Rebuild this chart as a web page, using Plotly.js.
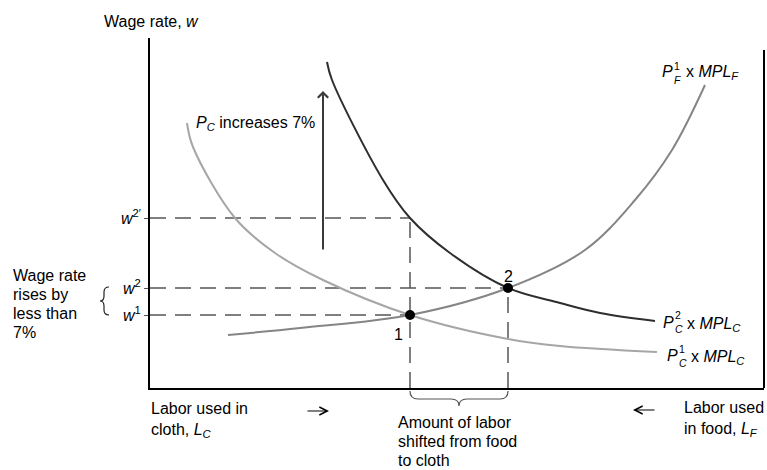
<!DOCTYPE html>
<html>
<head>
<meta charset="utf-8">
<script src="https://cdn.plot.ly/plotly-3.0.1.min.js"></script>
<style>html,body{margin:0;padding:0;background:#fff;}#chart{width:767px;height:470px;}</style>
</head>
<body>
<div id="chart"></div>
<script>
// ---- data (labor used in cloth measured from the left, wage upward) ----
var clothMPL1_L = [37, 43, 85, 125, 173, 260, 358, 410, 507];
var clothMPL1_W = [265, 241, 170, 135, 108, 73, 49, 42, 36];
var clothMPL2_L = [177, 182, 233, 260, 300, 358, 410, 450, 505];
var clothMPL2_W = [326, 308, 208, 170, 135, 100, 85, 75, 67];
var foodMPL_L = [78, 150, 260, 358, 435, 485, 522, 555];
var foodMPL_W = [53, 60, 73, 100, 138, 188, 238, 303];
var eqLabor = [260, 358];          // labor in cloth at equilibria 1 and 2
var eqWage = [73, 100];            // w1, w2
var eqLabels = ['1', '2'];
var wagePrime = 170;               // w2'
var wageTickVals = [73, 100, 170];
var wageTickText = ['<i>w</i><sup>1</sup>', '<i>w</i><sup>2</sup>', '<i>w</i><sup>2\u2032</sup>'];
var arrowLabor = 173, arrowFrom = 137, arrowTo = 297;

// ---- geometry helpers (plot area 150..764 px, 38..388 px) ----
var L0 = 150, B0 = 388, PW = 614, PH = 350;
function px(x) { return (x - L0) / PW; }
function py(y) { return (B0 - y) / PH; }
var FONT = 'Liberation Sans, Arial, Helvetica, sans-serif';
var FS = 16;

// dashed guide lines built from the values above
var gx = [], gy = [];
function seg(x0, y0, x1, y1) { gx.push(x0, x1, null); gy.push(y0, y1, null); }
seg(0, wagePrime, eqLabor[0], wagePrime);
seg(0, eqWage[1], eqLabor[1], eqWage[1]);
seg(0, eqWage[0], eqLabor[0], eqWage[0]);
seg(eqLabor[0], 0, eqLabor[0], wagePrime);
seg(eqLabor[1], 0, eqLabor[1], eqWage[1]);

var traces = [
  {x: gx, y: gy, mode: 'lines', line: {color: '#555', width: 1.5, dash: '16px,9px'}, hoverinfo: 'skip'},
  {x: clothMPL1_L, y: clothMPL1_W, mode: 'lines', line: {color: '#a6a6a6', width: 2, shape: 'spline', smoothing: 1}},
  {x: foodMPL_L, y: foodMPL_W, mode: 'lines', line: {color: '#858585', width: 2, shape: 'spline', smoothing: 1}},
  {x: clothMPL2_L, y: clothMPL2_W, mode: 'lines', line: {color: '#2e2e2e', width: 2, shape: 'spline', smoothing: 1}},
  {x: eqLabor, y: eqWage, mode: 'markers', marker: {color: '#000', size: 10}, cliponaxis: false}
];

function ann(text, x, y, xa, extra) {
  var a = {text: text, xref: 'paper', yref: 'paper', x: px(x), y: py(y), xanchor: xa || 'left', yanchor: 'middle',
    showarrow: false, font: {family: FONT, size: FS, color: '#000'}, align: 'left', borderpad: 0};
  for (var k in extra) a[k] = extra[k];
  return a;
}
var stackFont = {family: FONT, size: 10.5, color: '#000'};
function hArrow(tipX, tipY, dx) {
  return {text: '', xref: 'paper', yref: 'paper', x: px(tipX), y: py(tipY), ax: dx, ay: 0,
    showarrow: true, arrowhead: 5, arrowsize: 1.3, arrowwidth: 1.2, arrowcolor: '#000', standoff: 0};
}

var annotations = [
  ann('Wage rate, <i>w</i>', 151, 22, 'center'),
  ann('<i>P</i><sub><i>C</i></sub> increases 7%', 195, 124),
  // P_F^1 x MPL_F
  ann('<i>P</i>', 661, 71),
  ann('1<br><i>F</i>', 673, 73, 'left', {font: stackFont}),
  ann('x <i>MPL</i><sub><i>F</i></sub>', 685, 72.5),
  // P_C^2 x MPL_C
  ann('<i>P</i>', 662, 322),
  ann('2<br><i>C</i>', 674, 322, 'left', {font: stackFont}),
  ann('x <i>MPL</i><sub><i>C</i></sub>', 686, 324),
  // P_C^1 x MPL_C
  ann('<i>P</i>', 666, 355.5),
  ann('1<br><i>C</i>', 678, 356, 'left', {font: stackFont}),
  ann('x <i>MPL</i><sub><i>C</i></sub>', 690, 357.5),
  // left note
  ann('Wage rate', 12, 275),
  ann('rises by', 12, 294),
  ann('less than', 12, 313),
  ann('7%', 12, 332),
  // bottom texts
  ann('Labor used in', 150, 408),
  ann('cloth, <i>L</i><sub><i>C</i></sub>', 150, 430),
  ann('Amount of labor', 397, 422),
  ann('shifted from food', 397, 441),
  ann('to cloth', 397, 460),
  ann('Labor used', 683, 407),
  ann('in food, <i>L</i><sub><i>F</i></sub>', 683, 429),
  hArrow(329, 411, -23),
  hArrow(633, 410, 23),
  {text: eqLabels[0], xref: 'x', yref: 'y', x: eqLabor[0], y: eqWage[0], xshift: -12, yshift: -19,
   showarrow: false, font: {family: FONT, size: FS, color: '#000'}},
  {text: eqLabels[1], xref: 'x', yref: 'y', x: eqLabor[1], y: eqWage[1], xshift: 0, yshift: 12,
   showarrow: false, font: {family: FONT, size: FS, color: '#000'}},
  {x: arrowLabor, y: arrowTo, ax: arrowLabor, ay: arrowFrom, xref: 'x', yref: 'y', axref: 'x', ayref: 'y',
   text: '', showarrow: true, arrowhead: 4, arrowsize: 1, arrowwidth: 2, arrowcolor: '#3a3a3a', standoff: 0}
];

var shapes = [
  // right frame line (shorter than the left axis)
  {type: 'line', xref: 'paper', yref: 'paper', x0: 1, x1: 1, y0: 0, y1: py(50), line: {color: '#000', width: 2}},
  // left brace
  {type: 'path', xref: 'paper', yref: 'paper', xsizemode: 'pixel', ysizemode: 'pixel', xanchor: 0, yanchor: 0,
   path: 'M -41,101 Q -46,101 -46,96 L -46,92 Q -46,87 -50,87 Q -46,87 -46,82 L -46,78 Q -46,73 -41,73',
   line: {color: '#222', width: 1.2}},
  // bottom brace
  {type: 'path', xref: 'paper', yref: 'paper', xsizemode: 'pixel', ysizemode: 'pixel', xanchor: 0, yanchor: 0,
   path: 'M 260,-3 Q 260,-11 268,-11 L 301,-11 Q 309,-11 309,-18 Q 309,-11 317,-11 L 350,-11 Q 358,-11 358,-3',
   line: {color: '#555', width: 1.2}}
];

var layout = {
  width: 767, height: 470,
  margin: {l: 150, r: 3, t: 38, b: 82, pad: 0},
  paper_bgcolor: '#fff', plot_bgcolor: '#fff',
  showlegend: false,
  font: {family: FONT, size: FS, color: '#000'},
  xaxis: {range: [0, PW], showline: true, linecolor: '#000', linewidth: 2, showgrid: false, zeroline: false,
          showticklabels: false, ticks: '', fixedrange: true},
  yaxis: {range: [0, PH], showline: true, linecolor: '#000', linewidth: 2, showgrid: false, zeroline: false,
          tickvals: wageTickVals, ticktext: wageTickText, ticks: 'outside', ticklen: 4, tickcolor: '#555',
          tickfont: {family: FONT, size: FS, color: '#000'}, fixedrange: true},
  annotations: annotations,
  shapes: shapes
};

Plotly.newPlot('chart', traces, layout, {staticPlot: true, displayModeBar: false});
</script>
</body>
</html>
